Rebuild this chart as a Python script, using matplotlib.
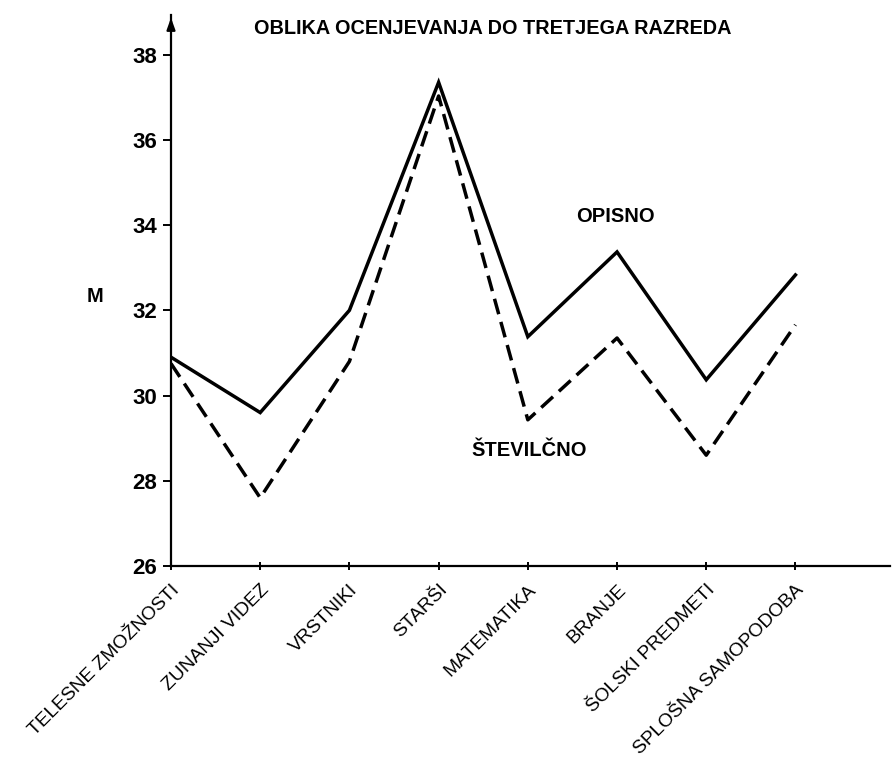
import numpy as np
import matplotlib
matplotlib.use("Agg")
from matplotlib import pyplot as plt
from matplotlib.transforms import ScaledTranslation

# chart data
categories = [
    "TELESNE ZMOŽNOSTI",
    "ZUNANJI VIDEZ",
    "VRSTNIKI",
    "STARŠI",
    "MATEMATIKA",
    "BRANJE",
    "ŠOLSKI PREDMETI",
    "SPLOŠNA SAMOPODOBA",
]
opisno = [30.9, 29.6, 32.0, 37.35, 31.38, 33.37, 30.37, 32.83]
stevilcno = [30.75, 27.6, 30.8, 37.03, 29.43, 31.35, 28.6, 31.66]
y_ticks = [26, 28, 30, 32, 34, 36, 38]

plt.rcParams["font.family"] = ["Liberation Sans", "DejaVu Sans"]

fig = plt.figure(figsize=(8.92, 7.65), dpi=100)
ax = fig.add_axes([171 / 892, 1 - 566 / 765, (890 - 171) / 892, (566 - 15) / 765])

x = np.arange(len(categories))
ax.plot(x, opisno, color="black", lw=2.5, solid_joinstyle="miter")
ax.plot(x, stevilcno, color="black", lw=2.5, ls=(0, (4.6, 2.3)))

ax.set_xlim(0, 8.06)
ax.set_ylim(26, 38.93)

ax.spines["top"].set_visible(False)
ax.spines["right"].set_visible(False)
ax.spines["left"].set_linewidth(1.6)
ax.spines["bottom"].set_linewidth(1.6)

# arrow on top of y axis
ax.annotate("", xy=(0, 1.0), xytext=(0, 0.97), xycoords="axes fraction",
            arrowprops=dict(arrowstyle="-|>,head_length=0.7,head_width=0.25",
                            color="black", lw=1.6))

ax.set_yticks(y_ticks)
ax.set_yticklabels([str(v) for v in y_ticks], fontsize=16, fontweight="bold")
ax.set_xticks(x)
ax.set_xticklabels(categories, rotation=45, ha="right", va="top",
                   rotation_mode="anchor", fontsize=13.8)
shift = ScaledTranslation(6 / 100, 0, fig.dpi_scale_trans)
for lbl in ax.get_xticklabels():
    lbl.set_transform(lbl.get_transform() + shift)
ax.tick_params(axis="y", length=6, width=1.4, direction="out", pad=4)
ax.tick_params(axis="x", length=6, width=1.4, direction="inout", pad=8)

fig.text(493 / 892, 1 - 28 / 765, "OBLIKA OCENJEVANJA DO TRETJEGA RAZREDA",
         ha="center", va="center", fontsize=14.3, fontweight="bold")
fig.text(95 / 892, 1 - 297 / 765, "M", ha="center", va="center",
         fontsize=14.5, fontweight="bold")
ax.text(4.98, 34.19, "OPISNO", ha="center", va="center", fontsize=14.5,
        fontweight="bold")
ax.text(3.37, 28.72, "ŠTEVILČNO", ha="left", va="center", fontsize=14.5,
        fontweight="bold")

fig.savefig("out.png", dpi=100)
